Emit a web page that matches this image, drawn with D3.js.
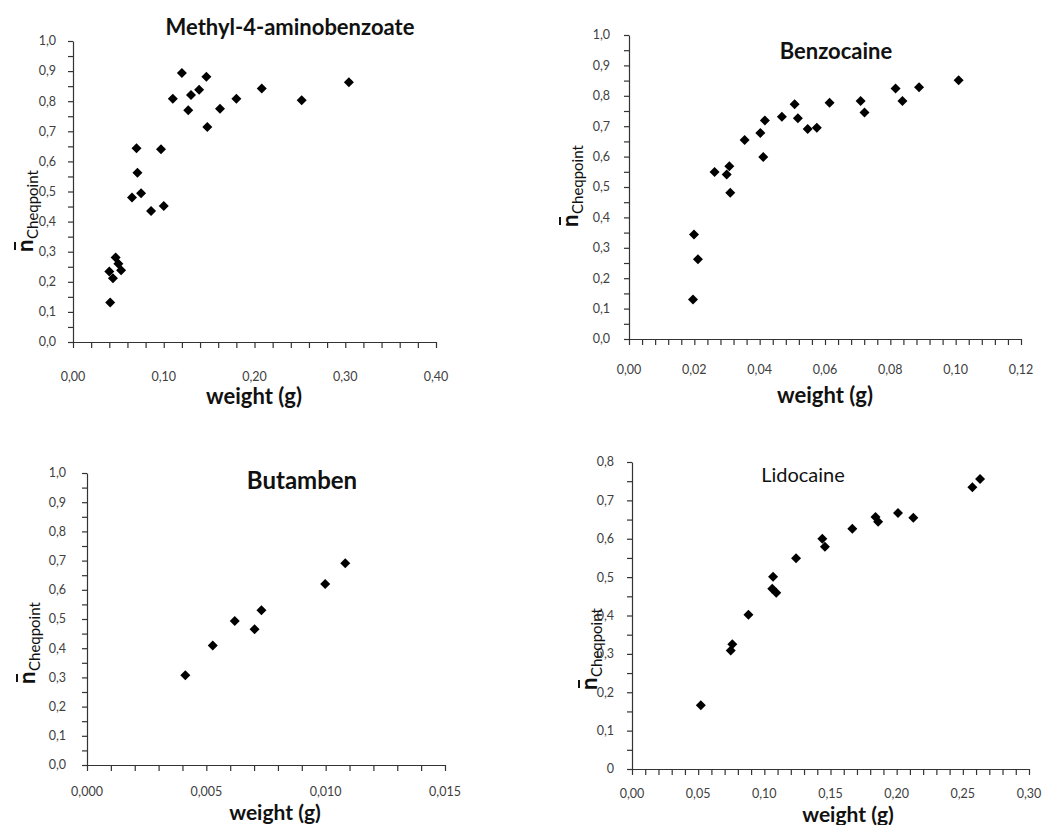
<!DOCTYPE html>
<html>
<head>
<meta charset="utf-8">
<script src="https://cdn.jsdelivr.net/npm/d3@7"></script>
<style>
  body { margin: 0; background: #fff; }
  svg { display: block; }
</style>
</head>
<body>
<div id="chart"></div>
<script>
// values
const methylWeight = [0.041, 0.040, 0.044, 0.047, 0.050, 0.053, 0.065, 0.075, 0.070, 0.071, 0.086, 0.097, 0.100, 0.110, 0.120, 0.127, 0.130, 0.139, 0.147, 0.148, 0.162, 0.180, 0.208, 0.252, 0.304];
const methylN      = [0.131, 0.234, 0.212, 0.281, 0.260, 0.238, 0.480, 0.494, 0.644, 0.562, 0.435, 0.640, 0.452, 0.808, 0.894, 0.770, 0.821, 0.838, 0.881, 0.714, 0.775, 0.808, 0.842, 0.803, 0.863];

const benzoWeight = [0.0196, 0.0199, 0.0211, 0.0262, 0.0299, 0.0307, 0.0310, 0.0354, 0.0402, 0.0416, 0.0411, 0.0468, 0.0507, 0.0517, 0.0547, 0.0575, 0.0614, 0.0709, 0.0721, 0.0816, 0.0837, 0.0888, 0.1009];
const benzoN      = [0.130, 0.344, 0.262, 0.549, 0.541, 0.568, 0.481, 0.655, 0.678, 0.719, 0.599, 0.731, 0.772, 0.726, 0.691, 0.695, 0.777, 0.783, 0.745, 0.824, 0.783, 0.828, 0.851];

const butamWeight = [0.00412, 0.00527, 0.00619, 0.00702, 0.00731, 0.00998, 0.01082];
const butamN      = [0.307, 0.409, 0.493, 0.465, 0.530, 0.620, 0.691];

const lidoWeight = [0.052, 0.0746, 0.0758, 0.088, 0.106, 0.1066, 0.109, 0.124, 0.1438, 0.1458, 0.1665, 0.184, 0.186, 0.201, 0.2126, 0.2572, 0.263];
const lidoN      = [0.166, 0.309, 0.325, 0.402, 0.470, 0.501, 0.459, 0.549, 0.600, 0.579, 0.626, 0.657, 0.644, 0.667, 0.655, 0.734, 0.756];

const titles = ["Methyl-4-aminobenzoate", "Benzocaine", "Butamben", "Lidocaine"];

const xTicks1 = [0, 0.10, 0.20, 0.30, 0.40];
const xLabels1 = ["0,00", "0,10", "0,20", "0,30", "0,40"];
const xTicks2 = [0, 0.02, 0.04, 0.06, 0.08, 0.10, 0.12];
const xLabels2 = ["0,00", "0,02", "0,04", "0,06", "0,08", "0,10", "0,12"];
const xTicks3 = [0, 0.005, 0.010, 0.015];
const xLabels3 = ["0,000", "0,005", "0,010", "0,015"];
const xTicks4 = [0, 0.05, 0.10, 0.15, 0.20, 0.25, 0.30];
const xLabels4 = ["0,00", "0,05", "0,10", "0,15", "0,20", "0,25", "0,30"];

const yTicks10 = [0, 0.1, 0.2, 0.3, 0.4, 0.5, 0.6, 0.7, 0.8, 0.9, 1.0];
const yLabels10 = ["0,0", "0,1", "0,2", "0,3", "0,4", "0,5", "0,6", "0,7", "0,8", "0,9", "1,0"];
const yTicks8 = [0, 0.1, 0.2, 0.3, 0.4, 0.5, 0.6, 0.7, 0.8];
const yLabels8 = ["0", "0,1", "0,2", "0,3", "0,4", "0,5", "0,6", "0,7", "0,8"];

var w = 1049, h = 825;

var svg = d3.select("#chart")
  .append("svg")
  .attr("width", w)
  .attr("height", h);

// panel layout (pixel boxes of each plot area)
var panels = [
  {x: methylWeight, y: methylN, title: titles[0], left: 73, right: 436, top: 41, bottom: 342,
   xmax: 0.40, xMinor: 0.02, ymax: 1.0, xt: xTicks1, xl: xLabels1, yt: yTicks10, yl: yLabels10,
   titleX: 290, titleY: 35, titleW: "bold", titleS: 22, xLabX: 254, xLabY: 404, xLabS: 22, xTickY: 381, yGap: 17,
   nX: 33, nY: 252},
  {x: benzoWeight, y: benzoN, title: titles[1], left: 629, right: 1021, top: 35, bottom: 339,
   xmax: 0.12, xMinor: 0.004, ymax: 1.0, xt: xTicks2, xl: xLabels2, yt: yTicks10, yl: yLabels10,
   titleX: 836, titleY: 59, titleW: "bold", titleS: 22, xLabX: 825, xLabY: 403, xLabS: 22, xTickY: 374, yGap: 19,
   nX: 578, nY: 227},
  {x: butamWeight, y: butamN, title: titles[2], left: 87, right: 445, top: 473, bottom: 765,
   xmax: 0.015, xMinor: 0.001, ymax: 1.0, xt: xTicks3, xl: xLabels3, yt: yTicks10, yl: yLabels10,
   titleX: 302, titleY: 489, titleW: "bold", titleS: 24, xLabX: 275, xLabY: 820, xLabS: 21, xTickY: 796, yGap: 21,
   nX: 35, nY: 684},
  {x: lidoWeight, y: lidoN, title: titles[3], left: 632, right: 1029, top: 462, bottom: 769,
   xmax: 0.30, xMinor: 0.01, ymax: 0.8, xt: xTicks4, xl: xLabels4, yt: yTicks8, yl: yLabels8,
   titleX: 803, titleY: 482, titleW: "normal", titleS: 20, xLabX: 848, xLabY: 822, xLabS: 21, xTickY: 798, yGap: 18,
   nX: 597, nY: 690}
];

var font = "Lato, 'Open Sans', sans-serif";
var diamond = d3.symbol().type(d3.symbolSquare).size(50);

panels.forEach(function(p){
  var x = d3.scaleLinear().domain([0, p.xmax]).range([p.left, p.right]);
  var y = d3.scaleLinear().domain([0, p.ymax]).range([p.bottom, p.top]);

  var g = svg.append("g");

  var xMinorVals = d3.range(0, p.xmax + p.xMinor / 2, p.xMinor);
  var yMinorVals = d3.range(0, p.ymax + 0.025, 0.05);

  g.append("g")
    .attr("transform", "translate(0," + p.bottom + ")")
    .call(d3.axisBottom(x).tickValues(xMinorVals).tickSize(6).tickSizeOuter(0).tickFormat(""));
  g.append("g")
    .attr("transform", "translate(" + p.left + ",0)")
    .call(d3.axisLeft(y).tickValues(yMinorVals).tickSize(5).tickSizeOuter(0).tickFormat(""));

  g.selectAll(".domain, .tick line")
    .attr("stroke", "#333")
    .attr("stroke-width", 1.2);

  // tick labels
  g.selectAll(".xl")
    .data(p.xt)
    .enter()
    .append("text")
    .attr("x", d => x(d))
    .attr("y", p.xTickY)
    .attr("text-anchor", "middle")
    .style("font-family", font)
    .style("font-size", "12.5px")
    .style("fill", "#404040")
    .text((d, i) => p.xl[i]);

  g.selectAll(".yl")
    .data(p.yt)
    .enter()
    .append("text")
    .attr("x", p.left - p.yGap)
    .attr("y", d => y(d))
    .attr("dy", "0.35em")
    .attr("text-anchor", "end")
    .style("font-family", font)
    .style("font-size", "12.5px")
    .style("fill", "#404040")
    .text((d, i) => p.yl[i]);

  // points
  g.selectAll(".pt")
    .data(p.x.map((d, i) => [d, p.y[i]]))
    .enter()
    .append("path")
    .attr("d", diamond)
    .attr("transform", d => "translate(" + x(d[0]) + "," + y(d[1]) + ") rotate(45)")
    .attr("fill", "#000");

  // title
  g.append("text")
    .attr("x", p.titleX)
    .attr("y", p.titleY)
    .attr("text-anchor", "middle")
    .style("font-family", font)
    .style("font-weight", p.titleW)
    .style("font-size", p.titleS + "px")
    .style("fill", "#111")
    .text(p.title);

  // x axis title
  g.append("text")
    .attr("x", p.xLabX)
    .attr("y", p.xLabY)
    .attr("text-anchor", "middle")
    .style("font-family", font)
    .style("font-weight", "bold")
    .style("font-size", p.xLabS + "px")
    .style("fill", "#111")
    .text("weight (g)");

  // y axis title: n-bar with subscript
  var yl = g.append("g")
    .attr("transform", "translate(" + p.nX + "," + p.nY + ") rotate(-90)");
  yl.append("text")
    .attr("x", 0)
    .attr("y", 0)
    .style("font-family", font)
    .style("font-weight", "bold")
    .style("font-size", "22px")
    .style("fill", "#111")
    .text("n");
  yl.append("line")
    .attr("x1", 2).attr("x2", 10)
    .attr("y1", -18).attr("y2", -18)
    .attr("stroke", "#111")
    .attr("stroke-width", 2);
  yl.append("text")
    .attr("x", 13)
    .attr("y", 5)
    .style("font-family", font)
    .style("font-size", "15px")
    .style("fill", "#111")
    .text("Cheqpoint");
});
</script>
</body>
</html>
